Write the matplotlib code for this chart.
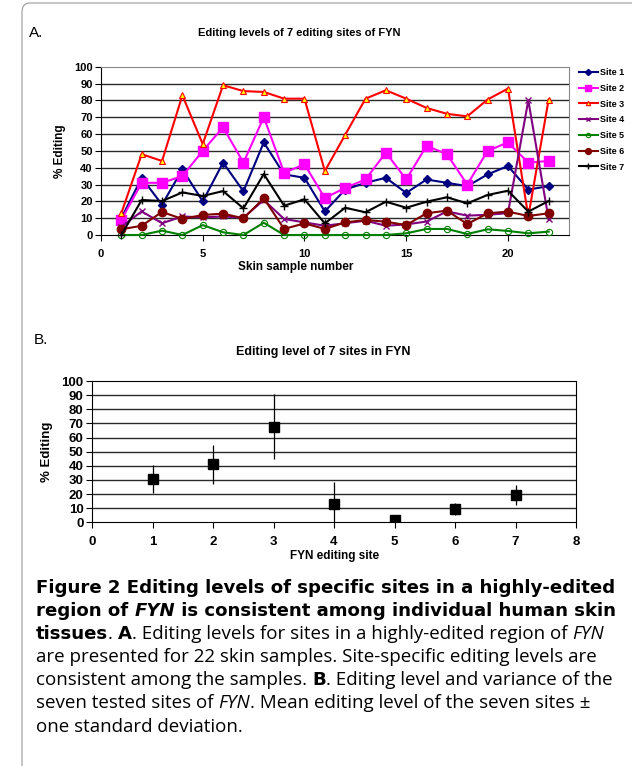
import matplotlib
matplotlib.use("Agg")
import matplotlib.pyplot as plt
from matplotlib.patches import FancyBboxPatch

W, H = 632, 766

# panel A: editing levels per skin sample
samples = list(range(1, 23))
site1 = [10, 34, 18, 39, 20, 43, 26, 55, 36, 34, 14, 27, 31, 34, 25, 33, 31, 29, 36, 41, 27, 29]
site2 = [9, 31, 31, 35, 50, 64, 43, 70, 37, 42, 22, 28, 33, 49, 33, 53, 48, 30, 50, 55, 43, 44]
site3 = [13, 48, 44, 83, 54, 89, 85.5, 85, 81, 81, 38, 59.5, 81, 86, 81, 75.5, 72, 70.5, 80.5, 87, 11, 80.5]
site4 = [5, 14, 7, 11, 10.5, 11, 10.3, 20.8, 9.5, 7.5, 5.5, 7, 8.5, 5.5, 6.3, 8, 14, 11.5, 12, 13, 80, 9.3]
site5 = [0, 0, 2.6, 0, 5.9, 1.6, 0, 7.3, 0, 0, 0, 0, 0, 0, 1, 3.6, 3.6, 0.6, 3.4, 2.4, 1, 2]
site6 = [3.4, 5.5, 13.7, 9.5, 11.9, 12.7, 9.9, 21.8, 3.6, 6.9, 3.6, 7.5, 8.9, 7.9, 5.9, 12.9, 14.5, 6.5, 12.9, 13.9, 11.3, 12.9]
site7 = [0, 20.8, 20.2, 25.3, 23.2, 26.1, 15.8, 36.2, 17.4, 21.2, 6.9, 16.2, 13.5, 19.8, 16.2, 19.8, 22.4, 18.8, 23.8, 26.3, 13.9, 20.2]
site_labels = ["Site 1", "Site 2", "Site 3", "Site 4", "Site 5", "Site 6", "Site 7"]

# panel B: mean +- sd per site
sites = [1, 2, 3, 4, 5, 6, 7]
means = [30.5, 41, 67.5, 13, 1.5, 9.6, 19.3]
sds = [10, 14, 23, 15.4, 1.5, 4.4, 7.2]

plt.rcParams['font.family'] = ['Liberation Sans', 'DejaVu Sans']

fig = plt.figure(figsize=(W / 100, H / 100), dpi=100)
renderer = fig.canvas.get_renderer()


def px_axes(x0, y0, x1, y1):
    return fig.add_axes([x0 / W, 1 - y1 / H, (x1 - x0) / W, (y1 - y0) / H])


# border of the figure box
fig.patches.append(FancyBboxPatch((22 / W, -0.05), 0.99, 1.05 - 3 / H,
                                  boxstyle="round,pad=0,rounding_size=0.012",
                                  transform=fig.transFigure, fill=False,
                                  edgecolor='#9a9a9a', linewidth=0.8))

# ---------- panel A ----------
ax = px_axes(101, 66.7, 569, 235)
styles = [
    dict(color='#000080', marker='D', ms=4.5, mfc='#000080', mec='#000080'),
    dict(color='#ff00ff', marker='s', ms=6.5, mfc='#ff00ff', mec='#ff00ff'),
    dict(color='#ff0000', marker='^', ms=4.5, mfc='#ffff00', mec='#ff0000', mew=0.8),
    dict(color='#800080', marker='x', ms=4.5, mfc='#800080', mec='#800080', mew=1),
    dict(color='#008000', marker='o', ms=4.5, mfc='none', mec='#008000', mew=0.8),
    dict(color='#800000', marker='o', ms=6, mfc='#800000', mec='#800000'),
    dict(color='#000000', marker='+', ms=6, mfc='#000000', mec='#000000', mew=1),
]
all_sites = [site1, site2, site3, site4, site5, site6, site7]
lines = []
for vals, st, lab in zip(all_sites, styles, site_labels):
    ln, = ax.plot(samples, vals, lw=1.5, label=lab, clip_on=False, zorder=3, **st)
    lines.append(ln)

ax.set_xlim(0, 23)
ax.set_ylim(0, 100)
ax.set_xticks([0, 5, 10, 15, 20])
ax.set_yticks(range(0, 101, 10))
for y in range(10, 100, 10):
    ax.axhline(y, color='#2a2a2a', lw=1, zorder=1)
for s in ['top', 'right']:
    ax.spines[s].set_color('#888888')
for s in ['left', 'bottom']:
    ax.spines[s].set_color('black')
ax.tick_params(direction='out', length=4, width=0.8, labelsize=8, pad=2)
for t in ax.get_xticklabels() + ax.get_yticklabels():
    t.set_fontweight('bold')
ax.tick_params(axis='x', pad=6)
ax.set_ylabel('% Editing', fontsize=8.5, fontweight='bold', labelpad=6)
fig.text(296 / W, 1 - 267 / H, 'Skin sample number', fontsize=8.5, fontweight='bold',
         ha='center', va='center')
fig.text(299 / W, 1 - 33 / H, 'Editing levels of 7 editing sites of FYN', fontsize=8,
         fontweight='bold', ha='center', va='center')
fig.text(29 / W, 1 - 33 / H, 'A.', fontsize=11, ha='left', va='center')

fig.legend(handles=lines, loc='upper left', bbox_to_anchor=(579 / W, 1 - 68 / H),
           frameon=False, prop=dict(weight='bold', size=6.5),
           handlelength=2.1, handletextpad=0.2, labelspacing=0.75, borderpad=0,
           borderaxespad=0, markerscale=0.7)

# ---------- panel B ----------
bx = px_axes(92, 381, 576, 522.3)
bx.errorbar(sites, means, yerr=sds, fmt='s', color='black', ms=6.5, ecolor='black',
            elinewidth=0.9, capsize=0, zorder=3)
bx.set_xlim(0, 8)
bx.set_ylim(0, 100)
bx.set_xticks(range(0, 9))
bx.set_yticks(range(0, 101, 10))
for y in range(10, 100, 10):
    bx.axhline(y, color='#2a2a2a', lw=1, zorder=1)
bx.tick_params(direction='out', length=4, width=0.8, labelsize=9.5, pad=2)
bx.tick_params(axis='x', pad=6)
for t in bx.get_xticklabels() + bx.get_yticklabels():
    t.set_fontweight('bold')
bx.set_ylabel('% Editing', fontsize=9.5, fontweight='bold', labelpad=6)
fig.text(335 / W, 1 - 556 / H, 'FYN editing site', fontsize=8.5, fontweight='bold',
         ha='center', va='center')
fig.text(323 / W, 1 - 352 / H, 'Editing level of 7 sites in FYN', fontsize=9,
         fontweight='bold', ha='center', va='center')
fig.text(34 / W, 1 - 340 / H, 'B.', fontsize=11, ha='left', va='center')

# ---------- caption ----------
reg_font = ['Open Sans', 'DejaVu Sans']
bold_font = ['DejaVu Sans']


def fit_size(txt, target, weight, family):
    t = fig.text(0, 0, txt, fontsize=10, fontweight=weight, family=family)
    w = t.get_window_extent(renderer).width
    t.remove()
    return 10 * target / w


bold_size = fit_size("Figure 2 Editing levels of specific sites in a highly-edited", 581,
                     'bold', bold_font)
reg_size = fit_size("are presented for 22 skin samples. Site-specific editing levels are", 562,
                    'normal', reg_font)

cap_lines = [
    [("Figure 2 Editing levels of specific sites in a highly-edited", 'bold', 'normal')],
    [("region of ", 'bold', 'normal'), ("FYN", 'bold', 'italic'),
     (" is consistent among individual human skin", 'bold', 'normal')],
    [("tissues", 'bold', 'normal'), (". ", 'normal', 'normal'), ("A", 'bold', 'normal'),
     (". Editing levels for sites in a highly-edited region of ", 'normal', 'normal'),
     ("FYN", 'normal', 'italic')],
    [("are presented for 22 skin samples. Site-specific editing levels are", 'normal', 'normal')],
    [("consistent among the samples. ", 'normal', 'normal'), ("B", 'bold', 'normal'),
     (". Editing level and variance of the", 'normal', 'normal')],
    [("seven tested sites of ", 'normal', 'normal'), ("FYN", 'normal', 'italic'),
     (". Mean editing level of the seven sites \u00b1", 'normal', 'normal')],
    [("one standard deviation.", 'normal', 'normal')],
]
baselines = [593, 616, 639, 662, 685, 708, 732]
for segs, yb in zip(cap_lines, baselines):
    x = 36
    for txt, wt, sty in segs:
        if wt == 'bold':
            fam, size = bold_font, bold_size
        else:
            fam, size = reg_font, reg_size
        t = fig.text(x / W, 1 - yb / H, txt, fontsize=size, fontweight=wt, fontstyle=sty,
                     family=fam, ha='left', va='baseline')
        bb = t.get_window_extent(renderer)
        x = bb.x1

fig.savefig('out.png', dpi=100)
